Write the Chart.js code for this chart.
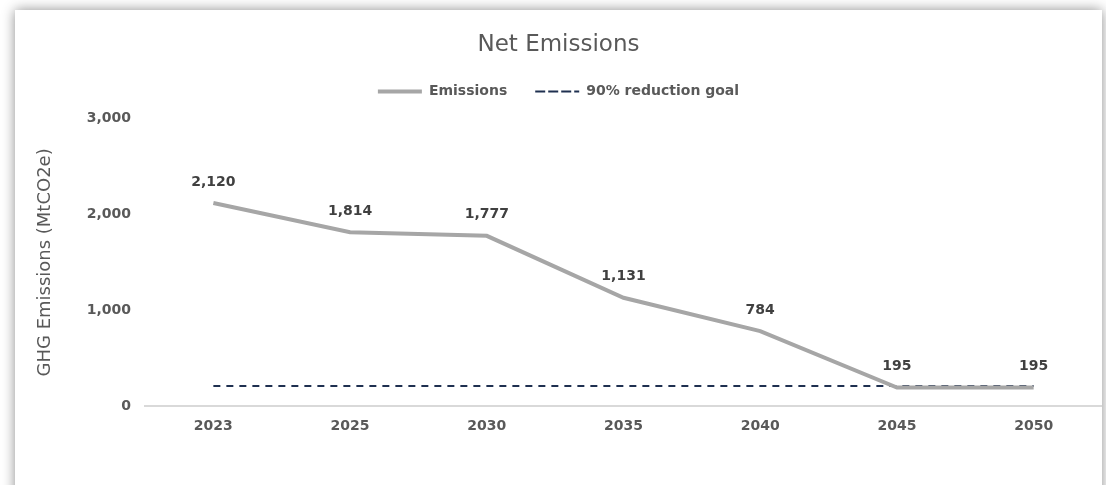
<!DOCTYPE html>
<html>
<head>
<meta charset="utf-8">
<script src="https://cdn.jsdelivr.net/npm/chart.js@4/dist/chart.umd.min.js"></script>
<style>
  html, body { margin: 0; padding: 0; background: #fff; overflow: hidden; }
  .card {
    position: absolute; left: 15px; top: 10px; width: 1087px; height: 520px;
    background: #fff; box-shadow: 0 0 12px rgba(0,0,0,0.45);
  }
  .card canvas { position: absolute; left: 0; top: 0; }
</style>
</head>
<body>
<div class="card">
  <canvas id="emissionsChart" width="1087" height="475"></canvas>
</div>
<script>
const years = ['2023', '2025', '2030', '2035', '2040', '2045', '2050'];
const emissions = [2120, 1814, 1777, 1131, 784, 195, 195];
const goal = [212, 212, 212, 212, 212, 212, 212];
const yTicks = [0, 1000, 2000, 3000];

const textColor = '#595959';
const fontFamily = "'DejaVu Sans', sans-serif";

// value labels above the emissions points
const pointLabels = {
    id: 'pointLabels',
    afterDatasetsDraw(chart) {
        const ctx = chart.ctx;
        const meta = chart.getDatasetMeta(0);
        ctx.save();
        ctx.font = "bold 14px " + fontFamily;
        ctx.fillStyle = '#404040';
        ctx.textAlign = 'center';
        ctx.textBaseline = 'middle';
        meta.data.forEach((pt, i) => {
            ctx.fillText(emissions[i].toLocaleString('en-US'), pt.x, pt.y - 21);
        });
        ctx.restore();
    }
};

// a bit more room under the legend
const legendGap = {
    id: 'legendGap',
    beforeInit(chart) {
        const fit = chart.legend.fit;
        chart.legend.fit = function() {
            fit.bind(chart.legend)();
            this.height += 10;
        };
    }
};

new Chart(document.getElementById('emissionsChart'), {
    type: 'line',
    data: {
        labels: years,
        datasets: [
            {
                label: 'Emissions',
                data: emissions,
                borderColor: '#a6a6a6',
                backgroundColor: '#a6a6a6',
                borderWidth: 4,
                pointRadius: 0,
                tension: 0
            },
            {
                label: '90% reduction goal',
                data: goal,
                borderColor: '#1f3050',
                backgroundColor: '#1f3050',
                borderWidth: 2,
                borderDash: [7, 6],
                pointRadius: 0,
                tension: 0
            }
        ]
    },
    options: {
        responsive: false,
        animation: false,
        layout: { padding: { left: 0, right: 0, top: 0, bottom: 38 } },
        plugins: {
            title: {
                display: true,
                text: 'Net Emissions',
                color: textColor,
                font: { family: fontFamily, size: 23, weight: 'normal' },
                padding: { top: 21, bottom: -2 }
            },
            legend: {
                labels: {
                    color: textColor,
                    font: { family: fontFamily, size: 14, weight: 'bold' },
                    boxWidth: 44,
                    boxHeight: 0,
                    padding: 28
                }
            },
            tooltip: { enabled: false }
        },
        scales: {
            x: {
                offset: true,
                grid: { display: false, drawTicks: false },
                border: { display: true, color: '#d9d9d9', width: 2 },
                ticks: {
                    color: textColor,
                    font: { family: fontFamily, size: 14, weight: 'bold' },
                    padding: 12
                }
            },
            y: {
                min: 0,
                max: 3000,
                afterBuildTicks: axis => { axis.ticks = yTicks.map(v => ({ value: v })); },
                afterFit: axis => { axis.width = 130; },
                grid: { display: false, drawTicks: false },
                border: { display: false },
                title: {
                    display: true,
                    text: 'GHG Emissions (MtCO2e)',
                    color: textColor,
                    font: { family: fontFamily, size: 18, weight: 'normal' },
                    padding: { top: 20, bottom: 0 }
                },
                ticks: {
                    color: textColor,
                    font: { family: fontFamily, size: 14, weight: 'bold' },
                    padding: 14,
                    callback: v => v.toLocaleString('en-US')
                }
            }
        }
    },
    plugins: [pointLabels, legendGap]
});
</script>
</body>
</html>
